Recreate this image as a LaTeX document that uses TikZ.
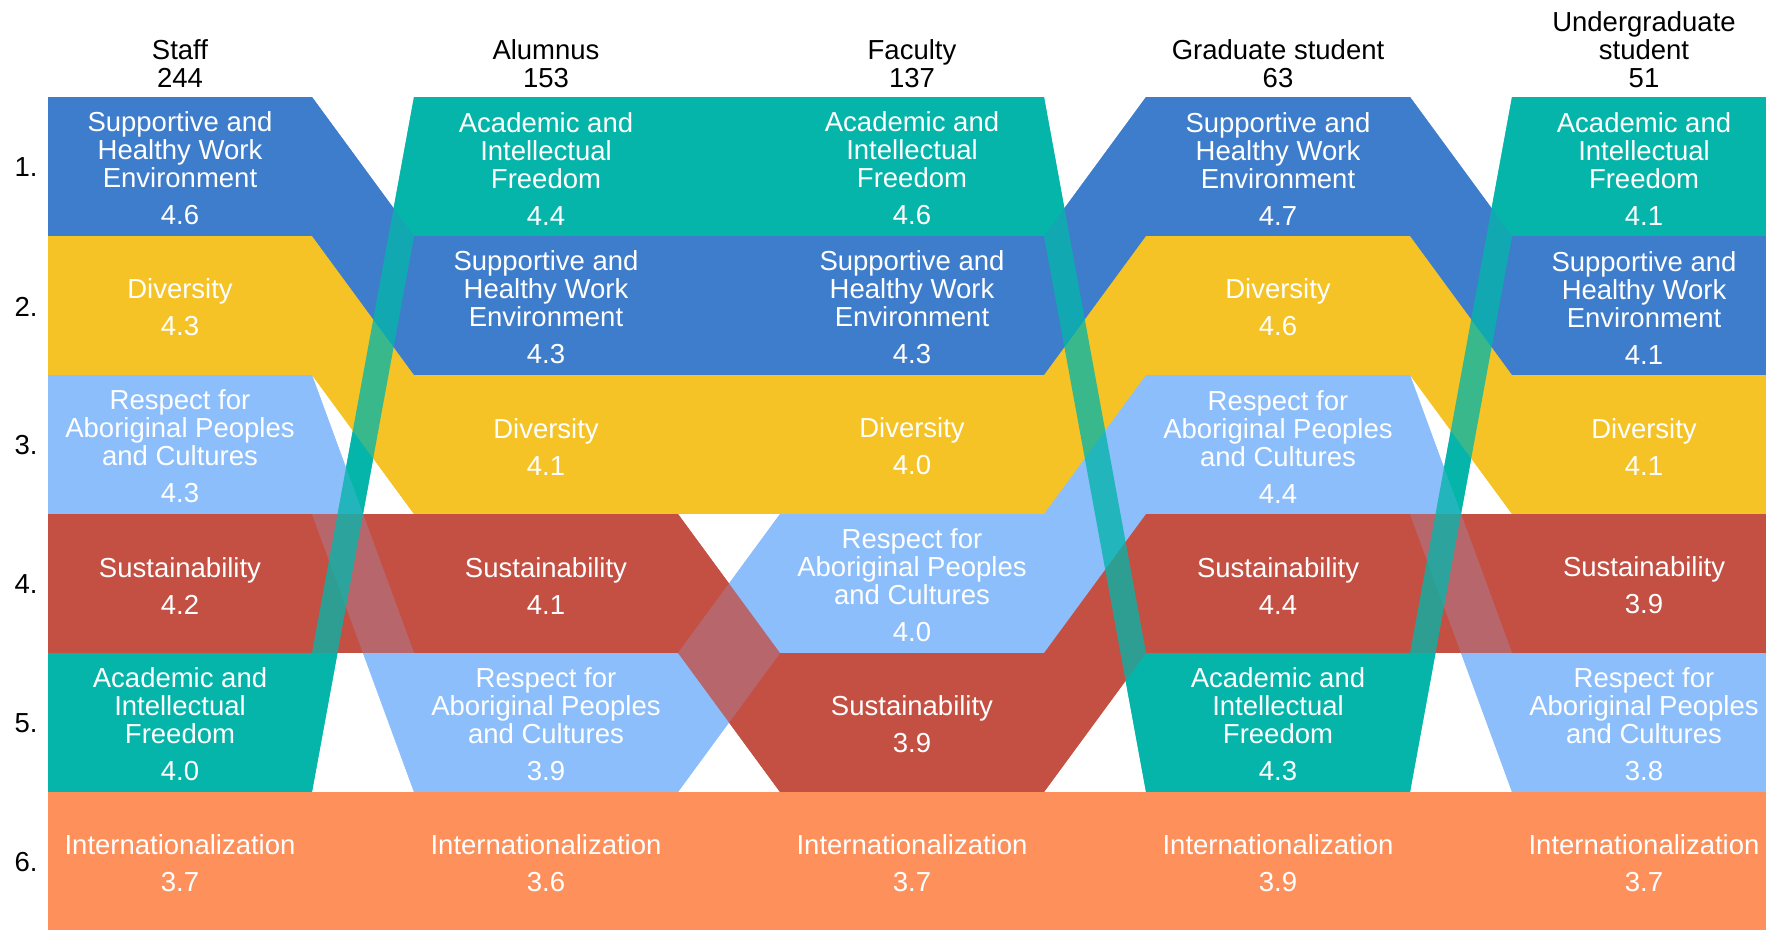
\documentclass[tikz,border=0pt]{standalone}
\usepackage{fontspec}
\setmainfont{Liberation Sans}
\definecolor{shwe}{RGB}{62,125,204}
\definecolor{aif}{RGB}{5,181,170}
\definecolor{div}{RGB}{245,195,37}
\definecolor{resp}{RGB}{140,190,252}
\definecolor{sust}{RGB}{196,79,67}
\definecolor{intl}{RGB}{254,144,91}
\newcommand{\topgap}{\rule{0pt}{24pt}}
\newcommand{\labshwe}[1]{\topgap Supportive and\\Healthy Work\\Environment\\[9pt]#1}
\newcommand{\labaif}[1]{\topgap Academic and\\Intellectual\\Freedom\\[9pt]#1}
\newcommand{\labresp}[1]{\topgap Respect for\\Aboriginal Peoples\\and Cultures\\[9pt]#1}
\newcommand{\labdiv}[1]{\topgap Diversity\\[9pt]#1}
\newcommand{\labsust}[1]{\topgap Sustainability\\[9pt]#1}
\newcommand{\labintl}[1]{\topgap Internationalization\\[9pt]#1}
\newcommand{\ribbon}[2]{(#1.north east) -- (#1.south east) -- (#2.south west) -- (#2.north west) -- cycle}
% ribbons of each category, column to column
\newcommand{\aifr}{s5/a1, a1/f1, f1/g5, g5/u1}
\newcommand{\sustr}{s4/a4, a4/f5, f5/g4, g4/u4}
\newcommand{\respr}{s3/a5, a5/f4, f4/g3, g3/u5}
\newcommand{\shwer}{s1/a2, a2/f2, f2/g1, g1/u2}
\newcommand{\divr}{s2/a3, a3/f3, f3/g2, g2/u3}
\newcommand{\intlr}{s6/a6, a6/f6, f6/g6, g6/u6}

\begin{document}
\begin{tikzpicture}[x=1pt,y=-1pt]
  \tikzstyle{cell}=[rectangle, minimum width=264pt, minimum height=139pt, inner sep=0pt, outer sep=0pt, text=white, align=center, font=\fontsize{27.5}{28}\selectfont]
  \tikzstyle{head}=[anchor=south, inner sep=0pt, align=center, font=\fontsize{27.5}{28}\selectfont]
  \tikzstyle{rank}=[inner sep=0pt, font=\fontsize{27.5}{28}\selectfont]
  \useasboundingbox (0,0) rectangle (1766,929);
  \clip (0,0) rectangle (1766,929);
  % headers
  \node[head](hs) at (180,88) {Staff\\244};
  \node[head](ha) at (546,88) {Alumnus\\153};
  \node[head](hf) at (912,88) {Faculty\\137};
  \node[head](hg) at (1278,88) {Graduate student\\63};
  \node[head](hu) at (1644,88) {Undergraduate\\student\\51};
  % ranks
  \node[rank](l1) at (26,167.5) {1.};
  \node[rank](l2) at (26,306.5) {2.};
  \node[rank](l3) at (26,445.5) {3.};
  \node[rank](l4) at (26,584.5) {4.};
  \node[rank](l5) at (26,723.5) {5.};
  \node[rank](l6) at (26,862.5) {6.};
  % staff
  \node[cell, fill=shwe](s1) at (180,166.5) {\labshwe{4.6}};
  \node[cell, fill=div ](s2) at (180,305.5) {\labdiv{4.3}};
  \node[cell, fill=resp](s3) at (180,444.5) {\labresp{4.3}};
  \node[cell, fill=sust](s4) at (180,583.5) {\labsust{4.2}};
  \node[cell, fill=aif ](s5) at (180,722.5) {\labaif{4.0}};
  \node[cell, fill=intl](s6) at (180,861.5) {\labintl{3.7}};
  % alumnus
  \node[cell, fill=aif ](a1) at (546,166.5) {\labaif{4.4}};
  \node[cell, fill=shwe](a2) at (546,305.5) {\labshwe{4.3}};
  \node[cell, fill=div ](a3) at (546,444.5) {\labdiv{4.1}};
  \node[cell, fill=sust](a4) at (546,583.5) {\labsust{4.1}};
  \node[cell, fill=resp](a5) at (546,722.5) {\labresp{3.9}};
  \node[cell, fill=intl](a6) at (546,861.5) {\labintl{3.6}};
  % faculty
  \node[cell, fill=aif ](f1) at (912,166.5) {\labaif{4.6}};
  \node[cell, fill=shwe](f2) at (912,305.5) {\labshwe{4.3}};
  \node[cell, fill=div ](f3) at (912,444.5) {\labdiv{4.0}};
  \node[cell, fill=resp](f4) at (912,583.5) {\labresp{4.0}};
  \node[cell, fill=sust](f5) at (912,722.5) {\labsust{3.9}};
  \node[cell, fill=intl](f6) at (912,861.5) {\labintl{3.7}};
  % graduate student
  \node[cell, fill=shwe](g1) at (1278,166.5) {\labshwe{4.7}};
  \node[cell, fill=div ](g2) at (1278,305.5) {\labdiv{4.6}};
  \node[cell, fill=resp](g3) at (1278,444.5) {\labresp{4.4}};
  \node[cell, fill=sust](g4) at (1278,583.5) {\labsust{4.4}};
  \node[cell, fill=aif ](g5) at (1278,722.5) {\labaif{4.3}};
  \node[cell, fill=intl](g6) at (1278,861.5) {\labintl{3.9}};
  % undergraduate student
  \node[cell, fill=aif ](u1) at (1644,166.5) {\labaif{4.1}};
  \node[cell, fill=shwe](u2) at (1644,305.5) {\labshwe{4.1}};
  \node[cell, fill=div ](u3) at (1644,444.5) {\labdiv{4.1}};
  \node[cell, fill=sust](u4) at (1644,583.5) {\labsust{3.9}};
  \node[cell, fill=resp](u5) at (1644,722.5) {\labresp{3.8}};
  \node[cell, fill=intl](u6) at (1644,861.5) {\labintl{3.7}};
  % ribbons: opaque from the top one down, then see-through from the bottom one up
  \foreach \k in {aif,sust,resp,shwe,div,intl}{
    \expandafter\let\expandafter\lst\csname\k r\endcsname
    \foreach \a/\b in \lst {\fill[fill=\k] \ribbon{\a}{\b};}
  }
  \foreach \k in {intl,div,shwe,resp,sust,aif}{
    \expandafter\let\expandafter\lst\csname\k r\endcsname
    \foreach \a/\b in \lst {\fill[fill=\k, fill opacity=0.78] \ribbon{\a}{\b};}
  }
\end{tikzpicture}
\end{document}
